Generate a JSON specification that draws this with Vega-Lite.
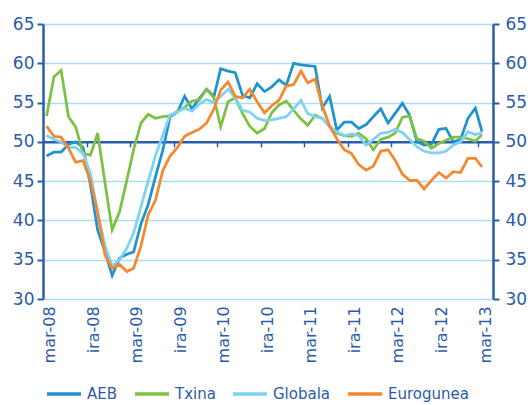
{
  "$schema": "https://vega.github.io/schema/vega-lite/v6.json",
  "width": 450,
  "height": 275,
  "autosize": {"type": "none"},
  "padding": {"left": 43, "top": 24, "right": 37, "bottom": 106},
  "background": "white",
  "config": {
    "view": {"stroke": null},
    "font": "DejaVu Sans"
  },
  "data": {
    "values": [
      {"date": "2008-03-01", "AEB": 48.2, "Txina": 53.3, "Globala": 50.8, "Eurogunea": 52.0},
      {"date": "2008-04-01", "AEB": 48.7, "Txina": 58.3, "Globala": 50.3, "Eurogunea": 50.7},
      {"date": "2008-05-01", "AEB": 48.7, "Txina": 59.1, "Globala": 50.0, "Eurogunea": 50.6},
      {"date": "2008-06-01", "AEB": 49.7, "Txina": 53.2, "Globala": 49.3, "Eurogunea": 49.2},
      {"date": "2008-07-01", "AEB": 50.0, "Txina": 51.9, "Globala": 49.3, "Eurogunea": 47.4},
      {"date": "2008-08-01", "AEB": 49.3, "Txina": 48.5, "Globala": 48.5, "Eurogunea": 47.6},
      {"date": "2008-09-01", "AEB": 44.5, "Txina": 48.3, "Globala": 46.0, "Eurogunea": 45.0},
      {"date": "2008-10-01", "AEB": 38.8, "Txina": 51.1, "Globala": 41.0, "Eurogunea": 41.1},
      {"date": "2008-11-01", "AEB": 36.0, "Txina": 44.8, "Globala": 36.8, "Eurogunea": 35.6},
      {"date": "2008-12-01", "AEB": 33.0, "Txina": 38.8, "Globala": 34.2, "Eurogunea": 33.9},
      {"date": "2009-01-01", "AEB": 35.2, "Txina": 41.1, "Globala": 35.0, "Eurogunea": 34.4},
      {"date": "2009-02-01", "AEB": 35.7, "Txina": 45.2, "Globala": 36.5, "Eurogunea": 33.5},
      {"date": "2009-03-01", "AEB": 36.0, "Txina": 49.0, "Globala": 38.4, "Eurogunea": 33.9},
      {"date": "2009-04-01", "AEB": 39.6, "Txina": 52.4, "Globala": 41.8, "Eurogunea": 36.8},
      {"date": "2009-05-01", "AEB": 42.0, "Txina": 53.5, "Globala": 45.0, "Eurogunea": 40.7},
      {"date": "2009-06-01", "AEB": 45.6, "Txina": 53.0, "Globala": 48.3, "Eurogunea": 42.6},
      {"date": "2009-07-01", "AEB": 48.9, "Txina": 53.2, "Globala": 50.8, "Eurogunea": 46.3},
      {"date": "2009-08-01", "AEB": 53.2, "Txina": 53.3, "Globala": 53.4, "Eurogunea": 48.2},
      {"date": "2009-09-01", "AEB": 53.8, "Txina": 53.9, "Globala": 53.8, "Eurogunea": 49.3},
      {"date": "2009-10-01", "AEB": 55.8, "Txina": 54.4, "Globala": 54.3, "Eurogunea": 50.7},
      {"date": "2009-11-01", "AEB": 54.2, "Txina": 55.2, "Globala": 53.9, "Eurogunea": 51.2},
      {"date": "2009-12-01", "AEB": 55.5, "Txina": 55.3, "Globala": 54.8, "Eurogunea": 51.6},
      {"date": "2010-01-01", "AEB": 56.7, "Txina": 56.7, "Globala": 55.4, "Eurogunea": 52.4},
      {"date": "2010-02-01", "AEB": 55.8, "Txina": 55.6, "Globala": 55.0, "Eurogunea": 54.2},
      {"date": "2010-03-01", "AEB": 59.3, "Txina": 51.9, "Globala": 55.8, "Eurogunea": 56.6},
      {"date": "2010-04-01", "AEB": 59.0, "Txina": 55.1, "Globala": 56.7, "Eurogunea": 57.6},
      {"date": "2010-05-01", "AEB": 58.8, "Txina": 55.6, "Globala": 55.6, "Eurogunea": 55.8},
      {"date": "2010-06-01", "AEB": 55.9, "Txina": 53.6, "Globala": 54.0, "Eurogunea": 55.6},
      {"date": "2010-07-01", "AEB": 55.6, "Txina": 52.0, "Globala": 53.8, "Eurogunea": 56.7},
      {"date": "2010-08-01", "AEB": 57.4, "Txina": 51.1, "Globala": 53.0, "Eurogunea": 55.1},
      {"date": "2010-09-01", "AEB": 56.4, "Txina": 51.7, "Globala": 52.7, "Eurogunea": 53.7},
      {"date": "2010-10-01", "AEB": 57.0, "Txina": 53.7, "Globala": 52.8, "Eurogunea": 54.6},
      {"date": "2010-11-01", "AEB": 57.9, "Txina": 54.7, "Globala": 53.0, "Eurogunea": 55.3},
      {"date": "2010-12-01", "AEB": 57.2, "Txina": 55.2, "Globala": 53.2, "Eurogunea": 57.1},
      {"date": "2011-01-01", "AEB": 60.0, "Txina": 54.0, "Globala": 54.2, "Eurogunea": 57.3},
      {"date": "2011-02-01", "AEB": 59.8, "Txina": 52.9, "Globala": 55.3, "Eurogunea": 59.0},
      {"date": "2011-03-01", "AEB": 59.7, "Txina": 52.1, "Globala": 53.6, "Eurogunea": 57.5},
      {"date": "2011-04-01", "AEB": 59.6, "Txina": 53.4, "Globala": 53.2, "Eurogunea": 58.0},
      {"date": "2011-05-01", "AEB": 54.3, "Txina": 53.0, "Globala": 53.0, "Eurogunea": 54.6},
      {"date": "2011-06-01", "AEB": 55.8, "Txina": 52.0, "Globala": 51.9, "Eurogunea": 52.0},
      {"date": "2011-07-01", "AEB": 51.5, "Txina": 51.1, "Globala": 51.3, "Eurogunea": 50.4},
      {"date": "2011-08-01", "AEB": 52.5, "Txina": 50.8, "Globala": 50.8, "Eurogunea": 49.0},
      {"date": "2011-09-01", "AEB": 52.5, "Txina": 50.7, "Globala": 51.0, "Eurogunea": 48.5},
      {"date": "2011-10-01", "AEB": 51.7, "Txina": 51.1, "Globala": 50.8, "Eurogunea": 47.1},
      {"date": "2011-11-01", "AEB": 52.2, "Txina": 50.4, "Globala": 49.6, "Eurogunea": 46.4},
      {"date": "2011-12-01", "AEB": 53.2, "Txina": 49.0, "Globala": 50.3, "Eurogunea": 46.9},
      {"date": "2012-01-01", "AEB": 54.2, "Txina": 50.3, "Globala": 51.1, "Eurogunea": 48.8},
      {"date": "2012-02-01", "AEB": 52.4, "Txina": 50.6, "Globala": 51.2, "Eurogunea": 49.0},
      {"date": "2012-03-01", "AEB": 53.6, "Txina": 51.1, "Globala": 51.6, "Eurogunea": 47.7},
      {"date": "2012-04-01", "AEB": 54.9, "Txina": 53.1, "Globala": 51.2, "Eurogunea": 45.9},
      {"date": "2012-05-01", "AEB": 53.4, "Txina": 53.3, "Globala": 50.3, "Eurogunea": 45.1},
      {"date": "2012-06-01", "AEB": 50.0, "Txina": 50.4, "Globala": 49.4, "Eurogunea": 45.1},
      {"date": "2012-07-01", "AEB": 49.6, "Txina": 50.1, "Globala": 48.8, "Eurogunea": 44.0},
      {"date": "2012-08-01", "AEB": 49.7, "Txina": 49.2, "Globala": 48.6, "Eurogunea": 45.1},
      {"date": "2012-09-01", "AEB": 51.6, "Txina": 49.8, "Globala": 48.6, "Eurogunea": 46.1},
      {"date": "2012-10-01", "AEB": 51.7, "Txina": 50.2, "Globala": 48.8, "Eurogunea": 45.4},
      {"date": "2012-11-01", "AEB": 50.0, "Txina": 50.6, "Globala": 49.6, "Eurogunea": 46.2},
      {"date": "2012-12-01", "AEB": 50.3, "Txina": 50.6, "Globala": 50.0, "Eurogunea": 46.1},
      {"date": "2013-01-01", "AEB": 53.0, "Txina": 50.4, "Globala": 51.3, "Eurogunea": 47.9},
      {"date": "2013-02-01", "AEB": 54.3, "Txina": 50.1, "Globala": 50.9, "Eurogunea": 47.9},
      {"date": "2013-03-01", "AEB": 51.3, "Txina": 50.9, "Globala": 51.2, "Eurogunea": 46.8}
    ]
  },
  "transform": [
    {"fold": ["AEB", "Txina", "Globala", "Eurogunea"], "as": ["series", "value"]}
  ],
  "layer": [
    {
      "mark": {"type": "line", "strokeWidth": 2.75},
      "encoding": {
        "x": {
          "field": "date",
          "type": "temporal",
          "scale": {
            "type": "utc",
            "domain": [
              {"year": 2008, "month": 2, "date": 15, "utc": true},
              {"year": 2013, "month": 4, "date": 16, "utc": true}
            ]
          },
          "axis": {
            "orient": "bottom",
            "title": null,
            "grid": false,
            "offset": -157.14,
            "domain": true,
            "domainColor": "#2A5CAA",
            "domainWidth": 2.5,
            "ticks": true,
            "tickColor": "#2A5CAA",
            "tickWidth": 1.5,
            "tickSize": 5,
            "tickOffset": -3.6,
            "labelAngle": -90,
            "labelPadding": 159,
            "labelOffset": 6.6,
            "labelFont": "DejaVu Sans",
            "labelFontSize": 16,
            "labelColor": "#2A5CAA",
            "labelOverlap": false,
            "values": [
              {"year": 2008, "month": 3, "date": 1, "utc": true},
              {"year": 2008, "month": 9, "date": 1, "utc": true},
              {"year": 2009, "month": 3, "date": 1, "utc": true},
              {"year": 2009, "month": 9, "date": 1, "utc": true},
              {"year": 2010, "month": 3, "date": 1, "utc": true},
              {"year": 2010, "month": 9, "date": 1, "utc": true},
              {"year": 2011, "month": 3, "date": 1, "utc": true},
              {"year": 2011, "month": 9, "date": 1, "utc": true},
              {"year": 2012, "month": 3, "date": 1, "utc": true},
              {"year": 2012, "month": 9, "date": 1, "utc": true},
              {"year": 2013, "month": 3, "date": 1, "utc": true}
            ],
            "labelExpr": "(utcmonth(datum.value) == 2 ? 'mar-' : 'ira-') + utcFormat(datum.value, '%y')"
          }
        },
        "y": {
          "field": "value",
          "type": "quantitative",
          "scale": {"domain": [30, 65], "zero": false, "nice": false},
          "axis": {
            "orient": "left",
            "title": null,
            "values": [30, 35, 40, 45, 50, 55, 60, 65],
            "domainColor": "#2A5CAA",
            "domainWidth": 2.5,
            "tickColor": "#2A5CAA",
            "tickWidth": 2,
            "tickSize": 6,
            "labelPadding": 3,
            "labelFont": "DejaVu Sans",
            "labelFontSize": 17,
            "labelColor": "#2A5CAA",
            "grid": true,
            "gridWidth": 1.3,
            "gridColor": {"condition": {"test": "datum.value === 50", "value": "transparent"}, "value": "#ABDDF4"}
          }
        },
        "color": {
          "field": "series",
          "type": "nominal",
          "sort": ["AEB", "Txina", "Globala", "Eurogunea"],
          "scale": {
            "domain": ["AEB", "Txina", "Globala", "Eurogunea"],
            "range": ["#1F93D0", "#7DC143", "#80D2F4", "#F5882D"]
          },
          "legend": {
            "title": null,
            "orient": "none",
            "legendX": 2,
            "legendY": 351,
            "direction": "horizontal",
            "padding": 0,
            "symbolType": "stroke",
            "symbolSize": 1156,
            "symbolStrokeWidth": 3.5,
            "labelFont": "DejaVu Sans",
            "labelFontSize": 15,
            "labelColor": "#2A5CAA",
            "labelOffset": 4,
            "columnPadding": 10
          }
        }
      }
    },
    {
      "mark": {"type": "line", "opacity": 0},
      "encoding": {
        "x": {
          "field": "date",
          "type": "temporal",
          "scale": {
            "type": "utc",
            "domain": [
              {"year": 2008, "month": 2, "date": 15, "utc": true},
              {"year": 2013, "month": 4, "date": 16, "utc": true}
            ]
          },
          "axis": null
        },
        "y": {
          "field": "value",
          "type": "quantitative",
          "scale": {"domain": [30, 65], "zero": false, "nice": false},
          "axis": {
            "orient": "right",
            "title": null,
            "values": [30, 35, 40, 45, 50, 55, 60, 65],
            "grid": false,
            "domainColor": "#2A5CAA",
            "domainWidth": 2.5,
            "tickColor": "#2A5CAA",
            "tickWidth": 2,
            "tickSize": 6,
            "labelPadding": 6,
            "labelFont": "DejaVu Sans",
            "labelFontSize": 17,
            "labelColor": "#2A5CAA"
          }
        },
        "detail": {"field": "series", "type": "nominal"}
      }
    }
  ],
  "resolve": {"scale": {"x": "independent", "y": "independent"}}
}
